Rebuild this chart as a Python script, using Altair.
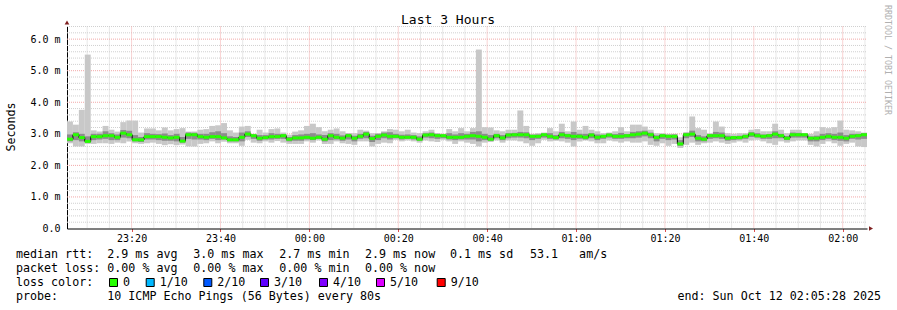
import altair as alt
import pandas as pd

STEP = 80  # seconds per RRD step
END_S = 10800

med = [2.83, 2.97, 2.88, 2.76, 2.91, 2.91, 2.94, 2.94, 2.89, 3.02,
       2.97, 2.81, 2.81, 2.91, 2.91, 2.91, 2.89, 2.87, 2.89, 2.77,
       2.97, 2.97, 2.91, 2.89, 2.91, 2.91, 2.87, 2.81, 2.81, 2.89,
       2.99, 2.94, 2.86, 2.88, 2.91, 2.91, 2.94, 2.83, 2.87, 2.87,
       2.89, 2.86, 2.89, 2.83, 2.94, 2.89, 2.86, 2.94, 2.86, 2.92,
       2.99, 2.85, 2.92, 2.96, 2.92, 2.92, 2.89, 2.89, 2.89, 2.83,
       2.96, 2.97, 2.94, 2.94, 2.89, 2.89, 2.89, 2.92, 2.94, 2.92,
       2.89, 2.83, 2.94, 2.87, 2.96, 2.97, 2.97, 2.97, 2.92, 2.92,
       2.97, 2.92, 2.88, 2.97, 2.94, 2.92, 2.92, 2.89, 2.96, 2.89,
       2.92, 2.96, 2.92, 2.92, 2.94, 2.97, 2.99, 3.02, 2.97, 2.88,
       2.94, 2.92, 2.92, 2.68, 2.97, 2.99, 2.86, 2.83, 2.94, 2.94,
       2.94, 2.86, 2.88, 2.88, 2.92, 2.99, 2.94, 2.92, 2.94, 2.99,
       2.94, 2.86, 2.97, 2.97, 2.97, 2.86, 2.86, 2.89, 2.92, 2.89,
       2.89, 2.86, 2.92, 2.94, 2.97]

hi = [3.39, 3.29, 3.76, 5.51, 3.11, 3.07, 3.25, 3.13, 3.07, 3.37,
      3.42, 3.42, 3.04, 3.17, 3.17, 3.11, 3.20, 3.11, 3.15, 3.18,
      3.07, 3.07, 3.13, 3.15, 3.25, 3.27, 3.34, 3.11, 3.04, 3.23,
      3.25, 3.00, 3.13, 3.04, 3.15, 3.17, 3.04, 2.97, 3.07, 3.11,
      3.25, 3.32, 3.21, 3.08, 3.13, 3.17, 3.08, 3.02, 3.02, 3.13,
      3.10, 3.02, 3.02, 3.08, 3.15, 3.13, 3.08, 3.13, 3.04, 3.02,
      3.08, 3.13, 3.02, 3.00, 3.15, 3.08, 3.18, 3.08, 3.18, 5.67,
      3.21, 3.20, 3.11, 3.08, 3.13, 3.13, 3.74, 3.25, 3.00, 3.02,
      3.04, 3.18, 3.08, 3.32, 3.08, 3.39, 3.13, 3.25, 3.13, 3.08,
      3.02, 3.04, 3.08, 3.21, 3.08, 3.29, 3.29, 3.23, 3.13, 3.02,
      3.02, 3.00, 3.00, 2.89, 3.02, 3.55, 3.18, 3.13, 3.02, 3.39,
      3.23, 3.02, 3.00, 3.02, 3.02, 3.13, 3.15, 3.08, 3.08, 3.32,
      3.13, 3.02, 3.13, 3.13, 3.02, 3.00, 3.08, 3.21, 3.18, 3.21,
      3.42, 3.13, 3.11, 3.08, 3.04]

lo = [2.70, 2.60, 2.60, 2.68, 2.68, 2.70, 2.70, 2.68, 2.72, 2.70,
      2.76, 2.70, 2.68, 2.70, 2.72, 2.68, 2.64, 2.67, 2.64, 2.66,
      2.60, 2.60, 2.68, 2.70, 2.76, 2.70, 2.75, 2.70, 2.70, 2.62,
      2.81, 2.72, 2.70, 2.76, 2.72, 2.77, 2.72, 2.68, 2.68, 2.68,
      2.76, 2.72, 2.79, 2.68, 2.68, 2.76, 2.70, 2.68, 2.65, 2.76,
      2.76, 2.60, 2.68, 2.72, 2.70, 2.81, 2.76, 2.79, 2.76, 2.72,
      2.79, 2.76, 2.74, 2.81, 2.76, 2.68, 2.76, 2.72, 2.68, 2.60,
      2.72, 2.74, 2.79, 2.72, 2.79, 2.79, 2.76, 2.70, 2.62, 2.70,
      2.81, 2.76, 2.78, 2.76, 2.72, 2.60, 2.76, 2.79, 2.76, 2.70,
      2.70, 2.79, 2.76, 2.72, 2.76, 2.72, 2.72, 2.76, 2.65, 2.62,
      2.70, 2.62, 2.68, 2.55, 2.65, 2.72, 2.65, 2.70, 2.72, 2.76,
      2.72, 2.68, 2.72, 2.76, 2.72, 2.79, 2.81, 2.76, 2.70, 2.65,
      2.76, 2.72, 2.76, 2.79, 2.79, 2.65, 2.60, 2.68, 2.76, 2.70,
      2.62, 2.68, 2.72, 2.60, 2.58]

hi2 = [2.98, 3.05, 3.00, 2.92, 3.00, 3.00, 3.08, 3.02, 2.98, 3.12,
       3.10, 2.96, 2.90, 3.02, 3.00, 2.99, 3.01, 2.96, 3.00, 2.90,
       3.04, 3.03, 3.00, 3.00, 3.05, 3.08, 3.02, 2.92, 2.90, 3.04,
       3.08, 2.98, 2.96, 2.96, 3.02, 3.00, 2.99, 2.90, 2.96, 2.98,
       3.00, 3.02, 2.98, 2.96, 3.02, 3.00, 2.95, 3.00, 2.94, 3.00,
       3.06, 2.94, 3.00, 3.04, 3.05, 3.00, 2.97, 2.98, 2.96, 2.92,
       3.02, 3.04, 3.00, 2.98, 3.02, 2.98, 3.02, 3.00, 3.06, 3.08,
       3.00, 2.96, 3.00, 2.96, 3.02, 3.03, 3.06, 3.05, 2.97, 2.98,
       3.01, 3.02, 2.96, 3.06, 3.00, 3.06, 3.00, 3.00, 3.02, 2.98,
       2.97, 3.01, 2.99, 3.03, 2.99, 3.06, 3.08, 3.10, 3.04, 2.95,
       2.99, 2.97, 2.98, 2.80, 3.04, 3.10, 2.96, 2.92, 2.99, 3.06,
       3.04, 2.94, 2.93, 2.94, 2.97, 3.05, 3.02, 2.98, 2.99, 3.08,
       3.00, 2.93, 3.04, 3.03, 3.01, 2.92, 2.94, 3.00, 3.02, 3.00,
       3.04, 2.96, 3.00, 3.00, 3.02]

lo2 = [2.76, 2.80, 2.76, 2.72, 2.80, 2.82, 2.84, 2.80, 2.80, 2.88,
       2.86, 2.76, 2.74, 2.82, 2.82, 2.80, 2.78, 2.78, 2.76, 2.72,
       2.84, 2.82, 2.82, 2.80, 2.84, 2.80, 2.82, 2.76, 2.76, 2.76,
       2.90, 2.84, 2.78, 2.82, 2.82, 2.84, 2.84, 2.76, 2.78, 2.78,
       2.82, 2.80, 2.84, 2.76, 2.80, 2.82, 2.78, 2.82, 2.76, 2.84,
       2.86, 2.74, 2.80, 2.86, 2.82, 2.86, 2.82, 2.84, 2.82, 2.78,
       2.88, 2.86, 2.84, 2.86, 2.82, 2.80, 2.82, 2.82, 2.82, 2.76,
       2.80, 2.78, 2.86, 2.80, 2.86, 2.88, 2.88, 2.86, 2.80, 2.84,
       2.88, 2.84, 2.82, 2.86, 2.84, 2.80, 2.84, 2.82, 2.86, 2.80,
       2.84, 2.88, 2.84, 2.84, 2.86, 2.86, 2.88, 2.92, 2.86, 2.76,
       2.84, 2.80, 2.82, 2.62, 2.86, 2.90, 2.76, 2.76, 2.84, 2.86,
       2.84, 2.78, 2.80, 2.82, 2.84, 2.90, 2.88, 2.84, 2.84, 2.86,
       2.86, 2.80, 2.88, 2.88, 2.88, 2.76, 2.76, 2.80, 2.84, 2.80,
       2.78, 2.76, 2.84, 2.82, 2.84]

x_tick_seconds = [872, 2072, 3272, 4472, 5672, 6872, 8072, 9272, 10472]
x_tick_labels = ["23:20", "23:40", "00:00", "00:20", "00:40", "01:00", "01:20", "01:40", "02:00"]
y_tick_values = [0, 1, 2, 3, 4, 5, 6]
y_tick_labels = ["0.0\u00a0\u00a0", "1.0 m", "2.0 m", "3.0 m", "4.0 m", "5.0 m", "6.0 m"]

title_text = "Last 3 Hours"
y_title = "Seconds"
side_text = "RRDTOOL / TOBI OETIKER"
line1 = ["median rtt:", "2.9 ms avg", "3.0 ms max", "2.7 ms min", "2.9 ms now", "0.1 ms sd",
         "53.1\u00a0\u00a0\u00a0am/s"]
line2 = ["packet loss:", "0.00 % avg", "0.00 % max", "0.00 % min", "0.00 % now"]
loss_head = "loss color:"
loss_labels = ["0", "1/10", "2/10", "3/10", "4/10", "5/10", "9/10"]
loss_colors = ["#26ff00", "#00b8ff", "#0059ff", "#5e00ff", "#7e00ff", "#dd00ff", "#ff0000"]
line4 = ["probe:", "10 ICMP Echo Pings (56 Bytes) every 80s"]
end_text = "end: Sun Oct 12 02:05:28 2025"

# ---------------------------------------------------------------- layout
OX, OY = 67, 26.5
W, H = 800, 202
FONT = "DejaVu Sans Mono"
n = len(med)
df = pd.DataFrame({
    "t": [i * STEP for i in range(n)],
    "t2": [(i + 1) * STEP for i in range(n)],
    "med": med, "hi": hi, "lo": lo, "hi2": hi2, "lo2": lo2,
})
df_line = pd.DataFrame({"t": list(df["t"]) + [n * STEP], "med": med + [med[-1]]})

xs = alt.Scale(domain=[0, END_S], nice=False, zero=False)
ys = alt.Scale(domain=[0, 6.4], nice=False, zero=True)

label_expr_x = "[" + ",".join(f"'{s}'" for s in x_tick_labels) + "][round((datum.value-872)/1200)]"
label_expr_y = "[" + ",".join(f"'{s}'" for s in y_tick_labels) + "][round(datum.value)]"

x_axis = alt.Axis(values=x_tick_seconds, labelExpr=label_expr_x, title=None, grid=False,
                  domainColor="#000000", domainWidth=1, ticks=True, tickSize=3,
                  tickColor="#de5050", labelFont=FONT, labelFontSize=10, labelColor="#000000",
                  labelPadding=2, labelFlush=False)
y_axis = alt.Axis(values=y_tick_values, labelExpr=label_expr_y, title=None, grid=False,
                  domainColor="#000000", domainWidth=1, ticks=False, labelFont=FONT,
                  labelFontSize=10, labelColor="#000000", labelPadding=7, labelFlush=False)

# grid
minor_h = [round(0.2 * k, 1) for k in range(1, 33) if k % 5]
major_h = [1, 2, 3, 4, 5, 6]
minor_v = [272 + 300 * k for k in range(36) if (272 + 300 * k - 872) % 1200]
major_v = x_tick_seconds

def hgrid(vals, color):
    return alt.Chart(pd.DataFrame({"v": vals})).mark_rule(
        color=color, strokeWidth=1, strokeDash=[1, 1]).encode(
        y=alt.Y("v:Q", scale=ys, axis=y_axis), x=alt.value(0), x2=alt.value(W))

def vgrid(vals, color):
    return alt.Chart(pd.DataFrame({"v": vals})).mark_rule(
        color=color, strokeWidth=1, strokeDash=[1, 1]).encode(
        x=alt.X("v:Q", scale=xs, axis=x_axis), y=alt.value(0), y2=alt.value(H))

grid = [hgrid(minor_h, "#d0d0d0"), vgrid(minor_v, "#d0d0d0"),
        hgrid(major_h, "#f2a8a8"), vgrid(major_v, "#f2a8a8")]

base = alt.Chart(df)
smoke1 = base.mark_rect(color="#c8c8c8").encode(
    x=alt.X("t:Q", scale=xs, axis=x_axis), x2="t2:Q",
    y=alt.Y("lo:Q", scale=ys, axis=y_axis), y2="hi:Q")
smoke2 = base.mark_rect(color="#8c8c8c").encode(
    x=alt.X("t:Q", scale=xs, axis=x_axis), x2="t2:Q",
    y=alt.Y("lo2:Q", scale=ys, axis=y_axis), y2="hi2:Q")
med_line = alt.Chart(df_line).mark_line(color="#000000", strokeWidth=1, interpolate="step-after").encode(
    x=alt.X("t:Q", scale=xs, axis=x_axis), y=alt.Y("med:Q", scale=ys, axis=y_axis))
med_green = base.mark_rule(color=loss_colors[0], strokeWidth=3, strokeCap="butt").encode(
    x=alt.X("t:Q", scale=xs, axis=x_axis), x2="t2:Q", y=alt.Y("med:Q", scale=ys, axis=y_axis))

one = pd.DataFrame({"a": [0]})

arrow_x = alt.Chart(one).mark_point(shape="triangle-right", filled=True, color="#7f1f1f",
                                    size=22, opacity=1, xOffset=4).encode(
    x=alt.X("a:Q", scale=xs, axis=x_axis), y=alt.value(H)).transform_calculate(a=str(END_S))
arrow_y = alt.Chart(one).mark_point(shape="triangle-up", filled=True, color="#7f1f1f",
                                    size=22, opacity=1, yOffset=-4).encode(
    x=alt.value(0), y=alt.Y("a:Q", scale=ys, axis=y_axis)).transform_calculate(a="6.4")

def txt(s, x, y, size=11.67, align="left", angle=0, color="#000000"):
    kw = dict(text=s, font=FONT, fontSize=size, align=align, baseline="middle", color=color)
    if angle:
        kw["angle"] = angle
    return alt.Chart(one).mark_text(**kw).encode(x=alt.value(x - OX), y=alt.value(y - OY))

texts = [txt(title_text, 448, 19.5, size=13, align="center"),
         txt(y_title, 11, 127, angle=270, align="center"),
         txt(side_text, 887, 60, size=8.3, angle=90, align="center", color="#b0b0b0")]

l1x = [16, 107.3, 193.3, 279.3, 365, 450, 530]
for s, x in zip(line1, l1x):
    texts.append(txt(s, x, 254))
l2x = [16, 107.3, 193.3, 279.3, 365]
for s, x in zip(line2, l2x):
    texts.append(txt(s, x, 268))
texts.append(txt(loss_head, 16, 282))
sqx = [109, 145.7, 203.3, 260, 319, 376, 436.7]
squares = []
for s, c, x in zip(loss_labels, loss_colors, sqx):
    squares.append(alt.Chart(one).mark_rect(fill=c, stroke="#000000", strokeWidth=1).encode(
        x=alt.value(x - OX + 0.5), x2=alt.value(x - OX + 8.5),
        y=alt.value(278 - OY + 0.5), y2=alt.value(286 - OY + 0.5)))
    texts.append(txt(s, x + 14, 282))
texts.append(txt(line4[0], 16, 296))
texts.append(txt(line4[1], 107.3, 296))
texts.append(txt(end_text, 881, 296, align="right"))

chart = alt.layer(*grid, smoke1, smoke2, med_line, med_green, arrow_x, arrow_y, *squares, *texts).properties(
    width=W, height=H,
    autosize=alt.AutoSizeParams(type="none"),
    padding={"left": OX, "top": OY, "right": 897 - OX - W, "bottom": 310 - OY - H},
    background="#ffffff",
).configure_view(stroke=None)

chart.save("out.html", embed_options={"renderer": "svg", "actions": False})
